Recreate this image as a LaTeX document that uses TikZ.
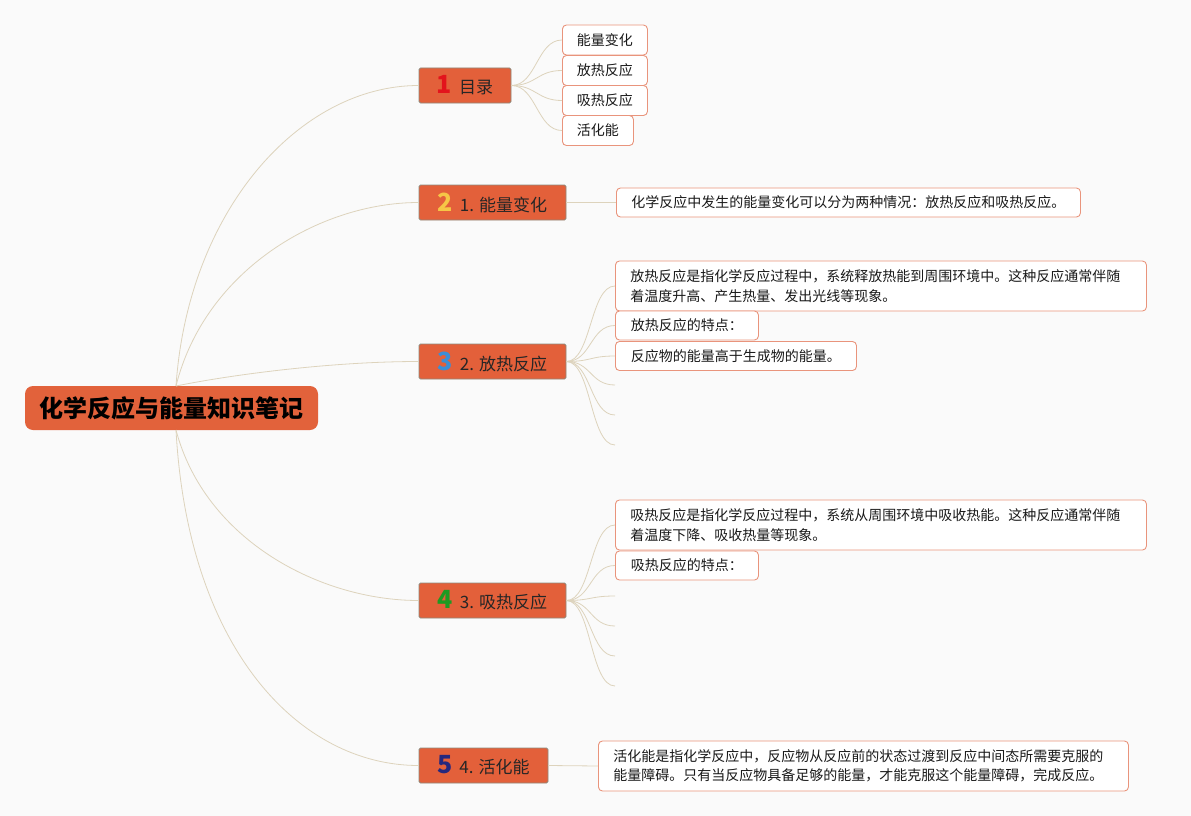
\documentclass[tikz,border=0pt]{standalone}
\usepackage{fontspec}
\setmainfont{Noto Sans CJK SC}
\usetikzlibrary{calc}
\definecolor{bgc}{HTML}{FAFAFA}
\definecolor{rootc}{HTML}{E2623B}
\definecolor{mainc}{HTML}{E3603A}
\definecolor{mainb}{HTML}{8E8A7C}
\definecolor{leafb}{HTML}{E9947C}
\definecolor{connc}{HTML}{DDD3BC}
\definecolor{n1}{HTML}{E3141C}
\definecolor{n2}{HTML}{F6C646}
\definecolor{n3}{HTML}{3C8ED6}
\definecolor{n4}{HTML}{1E9A22}
\definecolor{n5}{HTML}{26287E}
\tikzset{
  rootbox/.style={fill=rootc, rounded corners=8pt, minimum width=293pt, minimum height=44pt, inner sep=0pt, font=\bfseries\fontsize{24}{28}\selectfont, text=black},
  mainbox/.style={fill=mainc, draw=mainb, line width=0.8pt, rounded corners=1.5pt, minimum height=35pt, inner sep=0pt, font=\fontsize{17}{20}\selectfont, text=black!85},
  leafbox/.style={draw=leafb, fill=white, line width=0.9pt, rounded corners=4pt, anchor=west, minimum height=29pt, inner xsep=14pt, inner ysep=5pt, align=left, font=\fontsize{14}{19.5}\selectfont, text=black!90},
  conn/.style={draw=connc, line width=0.8pt}
}
\newcommand{\bignum}[2]{{\color{#1}\bfseries\fontsize{25}{25}\selectfont #2}\hspace{7pt}}
\begin{document}
\begin{tikzpicture}[x=1pt,y=-1pt]
\fill[bgc] (0,0) rectangle (1191,816);
\useasboundingbox (0,0) rectangle (1191,816);

% root
\node[rootbox] (root) at (171.5,408) {化学反应与能量知识笔记};
\coordinate (rt) at (176,386);
\coordinate (rb) at (176,430);

% main nodes
\node[mainbox, minimum width=92pt] (m1) at (465,85.5) {\bignum{n1}{1}目录};
\node[mainbox, minimum width=147pt] (m2) at (492.5,202.5) {\bignum{n2}{2}1. 能量变化};
\node[mainbox, minimum width=147pt] (m3) at (492.5,361.5) {\bignum{n3}{3}2. 放热反应};
\node[mainbox, minimum width=147pt] (m4) at (492.5,600.5) {\bignum{n4}{4}3. 吸热反应};
\node[mainbox, minimum width=129pt] (m5) at (483.5,765.5) {\bignum{n5}{5}4. 活化能};

% root connectors
\draw[conn] (rt) .. controls (188,210) and (300,85.5) .. (m1.west);
\draw[conn] (rt) .. controls (205,270) and (320,202.5) .. (m2.west);
\draw[conn] (rt) .. controls (230,375) and (330,361.5) .. (m3.west);
\draw[conn] (rb) .. controls (205,540) and (320,600.5) .. (m4.west);
\draw[conn] (rb) .. controls (188,650) and (300,765.5) .. (m5.west);

% branch 1 leaves
\node[leafbox, minimum width=85pt, minimum height=30pt, inner ysep=2pt] (l11) at (562,40) {能量变化};
\node[leafbox, minimum width=85pt, minimum height=30pt, inner ysep=2pt] (l12) at (562,70.5) {放热反应};
\node[leafbox, minimum width=85pt, minimum height=30pt, inner ysep=2pt] (l13) at (562,100.5) {吸热反应};
\node[leafbox, minimum width=71pt, minimum height=30pt, inner ysep=2pt] (l14) at (562,130.5) {活化能};
\foreach \l in {l11,l12,l13,l14}
  \draw[conn] (m1.east) .. controls ($(m1.east)+(25,0)$) and ($(\l.west)+(-25,0)$) .. (\l.west);

% branch 2
\node[leafbox, minimum width=464pt, inner xsep=15pt] (l21) at (616,202.5) {化学反应中发生的能量变化可以分为两种情况：放热反应和吸热反应。};
\draw[conn] (m2.east) -- (l21.west);

% branch 3
\node[leafbox, text width=501pt, inner xsep=15pt, minimum height=50pt] (l31) at (615,286) {放热反应是指化学反应过程中，系统释放热能到周围环境中。这种反应通常伴随\\着温度升高、产生热量、发出光线等现象。};
\node[leafbox, minimum width=143pt, inner xsep=15pt] (l32) at (615,325.5) {放热反应的特点：};
\node[leafbox, minimum width=241pt, inner xsep=15pt] (l33) at (615,356) {反应物的能量高于生成物的能量。};
\coordinate (e34) at (615,385);
\coordinate (e35) at (615,415);
\coordinate (e36) at (615,445);
\foreach \l in {l31.west,l32.west,l33.west,e34,e35,e36}
  \draw[conn] (m3.east) .. controls ($(m3.east)+(25,0)$) and ($(\l)+(-25,0)$) .. (\l);

% branch 4
\node[leafbox, text width=501pt, inner xsep=15pt, minimum height=50pt] (l41) at (615,525) {吸热反应是指化学反应过程中，系统从周围环境中吸收热能。这种反应通常伴随\\着温度下降、吸收热量等现象。};
\node[leafbox, minimum width=143pt, inner xsep=15pt] (l42) at (615,565.5) {吸热反应的特点：};
\coordinate (e43) at (615,596);
\coordinate (e44) at (615,626);
\coordinate (e45) at (615,656);
\coordinate (e46) at (615,686);
\foreach \l in {l41.west,l42.west,e43,e44,e45,e46}
  \draw[conn] (m4.east) .. controls ($(m4.east)+(25,0)$) and ($(\l)+(-25,0)$) .. (\l);

% branch 5
\node[leafbox, text width=500pt, inner xsep=15pt, minimum height=50pt] (l51) at (598,766) {活化能是指化学反应中，反应物从反应前的状态过渡到反应中间态所需要克服的\\能量障碍。只有当反应物具备足够的能量，才能克服这个能量障碍，完成反应。};
\draw[conn] (m5.east) -- (l51.west);
\end{tikzpicture}
\end{document}
